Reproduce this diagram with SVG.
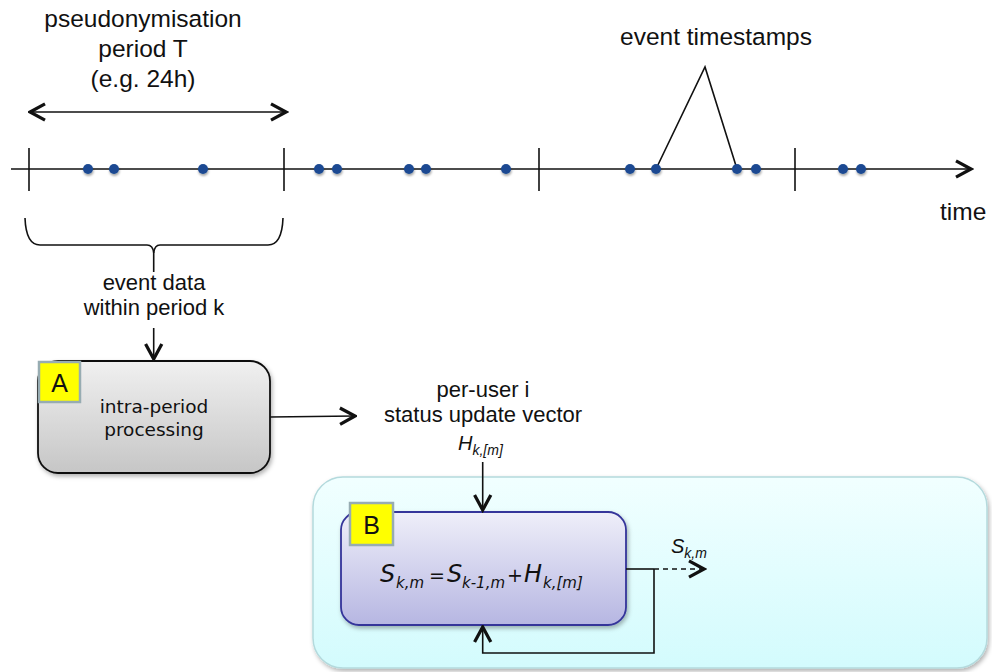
<svg xmlns="http://www.w3.org/2000/svg" width="992" height="672" viewBox="0 0 992 672">
<defs>
<style>
.lbl{font-family:"Liberation Sans",Arial,sans-serif;fill:#111;}
.big{font-size:24.5px;}
.mid{font-size:22px;}
.box{font-family:"DejaVu Sans",Verdana,sans-serif;fill:#111;}
.ln{stroke:#111;stroke-width:1.6;fill:none;}
.dot{fill:#1b4a92;filter:url(#dsh);}
.tag{fill:#ffff00;stroke:#97acb2;stroke-width:2.5;}
.arr{marker-end:url(#ah);}
.sub{font-size:15px;}
.op{font-size:19px;font-style:normal;}
</style>
<marker id="ah" markerUnits="userSpaceOnUse" markerWidth="20" markerHeight="20" viewBox="-14 -8 16 16" refX="0" refY="0" orient="auto-start-reverse">
<path d="M-12,-6.5 L0,0 L-12,6.5" fill="none" stroke="#111" stroke-width="2.6"/>
</marker>
<linearGradient id="gA" x1="0" y1="0" x2="0" y2="1">
<stop offset="0" stop-color="#f0f0f0"/><stop offset="1" stop-color="#c6c6c6"/>
</linearGradient>
<linearGradient id="gB" x1="0" y1="0" x2="0" y2="1">
<stop offset="0" stop-color="#efeff9"/><stop offset="1" stop-color="#b6b6e2"/>
</linearGradient>
<linearGradient id="gO" x1="0" y1="0" x2="0" y2="1">
<stop offset="0" stop-color="#f1ffff"/><stop offset="1" stop-color="#d3fbfd"/>
</linearGradient>
<filter id="sh" x="-10%" y="-10%" width="125%" height="130%">
<feDropShadow dx="1.5" dy="2.5" stdDeviation="2" flood-color="#000" flood-opacity="0.3"/>
</filter>
<filter id="dsh" x="-60%" y="-60%" width="220%" height="240%">
<feDropShadow dx="0.5" dy="2" stdDeviation="1.2" flood-color="#000" flood-opacity="0.35"/>
</filter>
</defs>

<rect width="992" height="672" fill="#fff"/>

<g id="labels-top">
<text class="lbl big" x="143" y="27" text-anchor="middle">pseudonymisation</text>
<text class="lbl big" x="143" y="57" text-anchor="middle">period T</text>
<text class="lbl big" x="143" y="87" text-anchor="middle">(e.g. 24h)</text>
<text class="lbl big" x="716" y="45" text-anchor="middle">event timestamps</text>
<text class="lbl big" x="940" y="220">time</text>
</g>

<g id="timeline">
<line class="ln arr" x1="11" y1="169" x2="971" y2="169"/>
<line class="ln" x1="29" y1="148" x2="29" y2="191"/>
<line class="ln" x1="284" y1="148" x2="284" y2="191"/>
<line class="ln" x1="539" y1="148" x2="539" y2="191"/>
<line class="ln" x1="795" y1="148" x2="795" y2="191"/>
<path class="ln" d="M656,169 L705,67 L737,169"/>
<g id="dots">
<circle class="dot" cx="88" cy="169" r="5"/>
<circle class="dot" cx="114" cy="169" r="5"/>
<circle class="dot" cx="203" cy="169" r="5"/>
<circle class="dot" cx="319" cy="169" r="5"/>
<circle class="dot" cx="337" cy="169" r="5"/>
<circle class="dot" cx="409" cy="169" r="5"/>
<circle class="dot" cx="426" cy="169" r="5"/>
<circle class="dot" cx="506" cy="169" r="5"/>
<circle class="dot" cx="630" cy="169" r="5"/>
<circle class="dot" cx="656" cy="169" r="5"/>
<circle class="dot" cx="737" cy="169" r="5"/>
<circle class="dot" cx="756" cy="169" r="5"/>
<circle class="dot" cx="843" cy="169" r="5"/>
<circle class="dot" cx="861" cy="169" r="5"/>
</g>
</g>

<g id="period-brace">
<path class="ln" d="M25,218 Q26,245 40,245 L147,245 Q153,245 153.7,253 L153.7,272"/>
<path class="ln" d="M283,218 Q282,245 268,245 L160,245 Q154.5,245 153.7,253"/>
<text class="lbl mid" x="154" y="290" text-anchor="middle">event data</text>
<text class="lbl mid" x="154" y="315" text-anchor="middle">within period k</text>
</g>

<g id="container">
<rect x="313" y="477" width="674" height="191" rx="30" fill="url(#gO)" stroke="#b4dadd" stroke-width="1.5" filter="url(#sh)"/>
</g>

<g id="nodeA">
<rect x="38" y="361" width="232" height="112" rx="20" fill="url(#gA)" stroke="#111" stroke-width="1.8" filter="url(#sh)"/>
<rect class="tag" x="39" y="362" width="41" height="40"/>
<text class="lbl" x="59.5" y="392" font-size="25" text-anchor="middle">A</text>
<text class="box" x="154" y="413" font-size="18.5" text-anchor="middle">intra-period</text>
<text class="box" x="154" y="436" font-size="18.5" text-anchor="middle">processing</text>
</g>

<g id="nodeB">
<rect x="341" y="512" width="285" height="113" rx="18" fill="url(#gB)" stroke="#34349a" stroke-width="1.8" filter="url(#sh)"/>
<rect class="tag" x="350" y="503" width="43" height="42"/>
<text class="lbl" x="371.5" y="534" font-size="25" text-anchor="middle">B</text>
<text class="box" font-style="italic" font-size="24" y="582"><tspan x="380">S</tspan><tspan class="sub" x="396" y="588">k,m</tspan><tspan class="op" x="429" y="582">=</tspan><tspan x="447">S</tspan><tspan class="sub" x="462" y="588">k-1,m</tspan><tspan class="op" x="507" y="582">+</tspan><tspan x="524">H</tspan><tspan class="sub" x="543" y="588">k,[m]</tspan></text>
</g>

<g id="connector-labels">
<text class="lbl mid" x="483" y="397" text-anchor="middle">per-user i</text>
<text class="lbl mid" x="483" y="422" text-anchor="middle">status update vector</text>
<text class="lbl" font-style="italic" font-size="20" y="450"><tspan x="458">H</tspan><tspan font-size="14" y="455">k,[m]</tspan></text>
<text class="lbl" font-style="italic" font-size="20" y="553"><tspan x="671">S</tspan><tspan font-size="14" y="558">k,m</tspan></text>
</g>

<g id="connectors">
<line class="ln arr" x1="30" y1="112" x2="286" y2="112" marker-start="url(#ah)"/>
<line class="ln arr" x1="153.7" y1="328" x2="153.7" y2="359"/>
<line class="ln arr" x1="270" y1="417" x2="355" y2="416"/>
<line class="ln arr" x1="482.7" y1="462" x2="482.7" y2="510"/>
<line class="ln" x1="626" y1="569" x2="654" y2="569"/>
<line class="ln arr" x1="654" y1="569" x2="704" y2="569" stroke-dasharray="5,4"/>
<path class="ln arr" d="M654,569 L654,653 L482.7,653 L482.7,627"/>
</g>
</svg>
